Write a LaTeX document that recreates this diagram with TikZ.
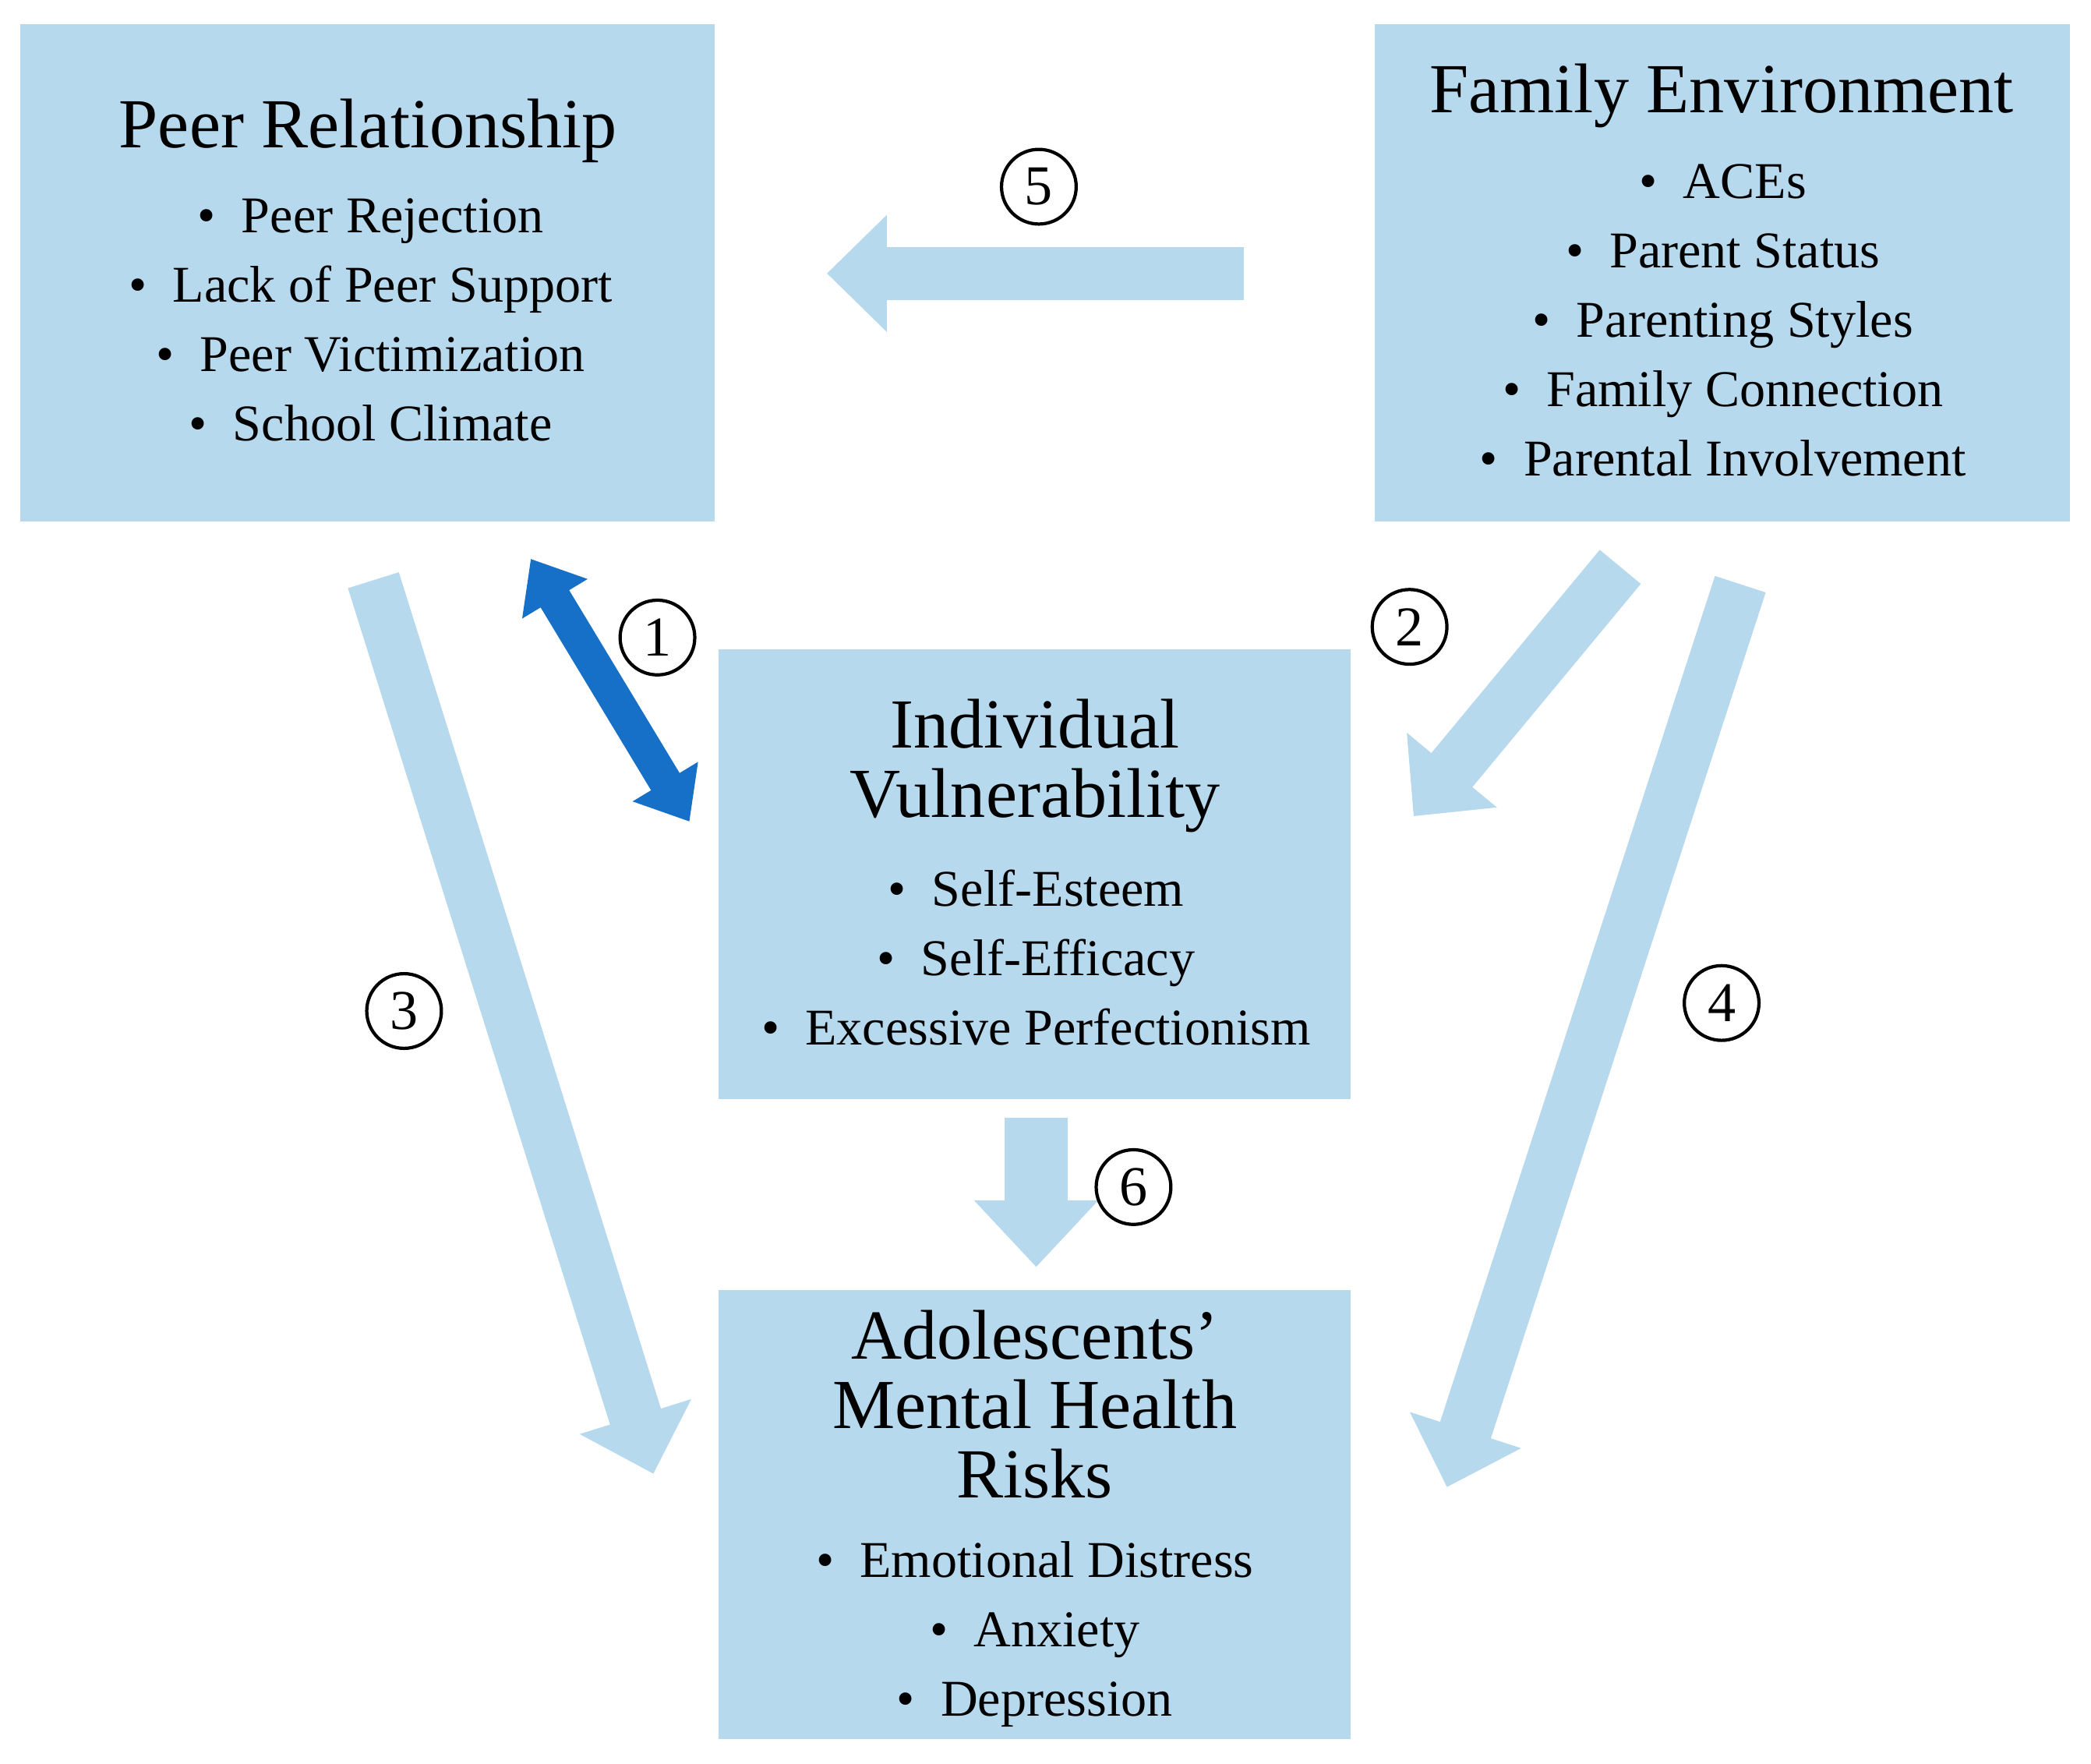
\documentclass[tikz,border=0pt]{standalone}
\usepackage{fontspec}
\setmainfont{Liberation Serif}
\usetikzlibrary{positioning, arrows.meta}
\definecolor{boxblue}{RGB}{183,217,238}
\definecolor{darkblue}{RGB}{22,112,200}
\tikzset{
  box/.style={rectangle, fill=boxblue, inner sep=0pt},
  title/.style={align=center, font=\fontsize{15}{14.8}\selectfont},
  items/.style={align=center, font=\fontsize{11}{14.8}\selectfont},
  fat/.style={draw=boxblue, line width=0.4cm, -{Triangle[width=0.85cm, length=0.45cm]}},
  num/.style={circle, draw, line width=0.7pt, minimum size=0.56cm, inner sep=0pt, font=\fontsize{12}{12}\selectfont}
}
\begin{document}
\begin{tikzpicture}
\useasboundingbox (0,0) rectangle (15.68,13.22);
\node[box, minimum width=5.21cm, minimum height=3.73cm] (peer) at (2.755,11.175) {};
\node[box, minimum width=5.21cm, minimum height=3.73cm] (family) at (12.915,11.175) {};
\node[box, minimum width=4.74cm, minimum height=3.37cm] (indiv) at (7.76,6.665) {};
\node[box, minimum width=4.74cm, minimum height=3.37cm] (risk) at (7.76,1.865) {};
\node[title] (peerT) at (2.76,12.24) {Peer Relationship};
\node[items] (peerL) at (2.78,10.82) {\textbullet\ \ Peer Rejection\\ \textbullet\ \ Lack of Peer Support\\ \textbullet\ \ Peer Victimization\\ \textbullet\ \ School Climate};
\node[title] (familyT) at (12.91,12.50) {Family Environment};
\node[items] (familyL) at (12.92,10.82) {\textbullet\ \ ACEs\\ \textbullet\ \ Parent Status\\ \textbullet\ \ Parenting Styles\\ \textbullet\ \ Family Connection\\ \textbullet\ \ Parental Involvement};
\node[title] (indivT) at (7.76,7.48) {Individual\\ Vulnerability};
\node[items] (indivL) at (7.77,6.04) {\textbullet\ \ Self-Esteem\\ \textbullet\ \ Self-Efficacy\\ \textbullet\ \ Excessive Perfectionism};
\node[title] (riskT) at (7.76,2.69) {Adolescents’\\ Mental Health\\ Risks};
\node[items] (riskL) at (7.76,0.97) {\textbullet\ \ Emotional Distress\\ \textbullet\ \ Anxiety\\ \textbullet\ \ Depression};
% arrows
\coordinate (a5s) at (9.33,11.17);
\coordinate (a5e) at (6.20,11.17);
\coordinate (a2s) at (12.15,8.97);
\coordinate (a2e) at (10.60,7.10);
\coordinate (a4s) at (13.05,8.84);
\coordinate (a4e) at (10.85,2.07);
\coordinate (a3s) at (2.80,8.87);
\coordinate (a3e) at (4.90,2.17);
\coordinate (a6s) at (7.77,4.84);
\coordinate (a6e) at (7.77,3.72);
\coordinate (a1s) at (3.98,9.03);
\coordinate (a1e) at (5.17,7.06);
\draw[fat] (a5s) -- (a5e);
\draw[fat] (a2s) -- (a2e);
\draw[fat] (a4s) -- (a4e);
\draw[fat] (a3s) -- (a3e);
\draw[fat, line width=0.47cm, -{Triangle[width=0.9cm, length=0.5cm]}] (a6s) -- (a6e);
\draw[darkblue, line width=0.25cm, {Triangle[width=0.55cm, length=0.35cm]}-{Triangle[width=0.55cm, length=0.35cm]}] (a1s) -- (a1e);
% numbers
\node[num] (n5) at (7.79,11.82) {5};
\node[num] (n1) at (4.93,8.44) {1};
\node[num] (n2) at (10.57,8.52) {2};
\node[num] (n3) at (3.03,5.64) {3};
\node[num] (n4) at (12.91,5.70) {4};
\node[num] (n6) at (8.50,4.32) {6};
\end{tikzpicture}
\end{document}
